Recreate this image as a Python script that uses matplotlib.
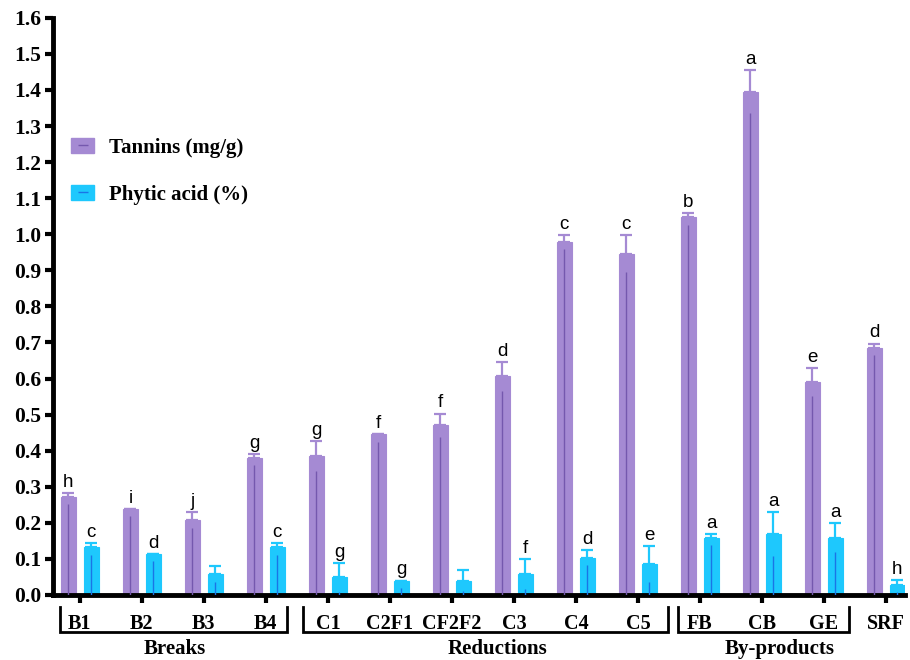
import numpy as np
import matplotlib
matplotlib.use("Agg")
import matplotlib.pyplot as plt
import matplotlib.transforms as mtransforms
from matplotlib.patches import Patch
from matplotlib.lines import Line2D

# data
samples = ["B1", "B2", "B3", "B4", "C1", "C2F1", "CF2F2", "C3", "C4", "C5",
           "FB", "CB", "GE", "SRF"]
tannins = [0.272, 0.238, 0.208, 0.381, 0.385, 0.445, 0.470, 0.606, 0.978, 0.946,
           1.047, 1.395, 0.591, 0.686]
tannins_err = [0.011, 0.0, 0.021, 0.010, 0.042, 0.0, 0.033, 0.040, 0.020, 0.051,
               0.012, 0.060, 0.038, 0.011]
tannins_letters = ["h", "i", "j", "g", "g", "f", "f", "d", "c", "c", "b", "a", "e", "d"]
phytic = [0.132, 0.113, 0.058, 0.132, 0.049, 0.040, 0.040, 0.058, 0.103, 0.085,
          0.159, 0.169, 0.159, 0.029]
phytic_err = [0.011, 0.0, 0.021, 0.011, 0.040, 0.0, 0.030, 0.041, 0.021, 0.050,
              0.010, 0.060, 0.040, 0.012]
phytic_letters = ["c", "d", "", "c", "g", "g", "", "f", "d", "e", "a", "a", "a", "h"]

groups = ["Breaks", "Reductions", "By-products"]
group_spans = [(-0.32, 3.34), (3.6, 9.48), (9.65, 12.4)]
group_label_x = [1.53, 6.74, 11.29]

purple = "#A58AD3"
purple_dark = "#7558AE"
blue = "#1EC8FD"
blue_dark = "#1A74E6"

serif = "Liberation Serif"
sans = "Liberation Sans"

fig = plt.figure(figsize=(9.1, 6.6), dpi=100)
ax = fig.add_axes([0.0577, 0.0985, 0.937, 0.8745])

x = np.arange(len(samples))
w = 0.245
off = 0.185


def draw_series(xpos, vals, errs, letters, color, dark):
    vals = np.array(vals)
    errs = np.array(errs)
    ax.bar(xpos, vals, width=w, color=color, edgecolor=color, linewidth=0.8, zorder=2)
    # inner (lower) part of the error line, drawn darker inside the bar
    ax.vlines(xpos, 0, vals - np.maximum(errs, 0.02), color=dark, linewidth=1.0, zorder=3)
    ax.errorbar(xpos, vals, yerr=[np.zeros_like(errs), errs], fmt="none",
                ecolor=color, elinewidth=1.6, capsize=4.5, capthick=1.6, zorder=3)
    for xi, v, e, t in zip(xpos, vals, errs, letters):
        if t:
            ax.annotate(t, (xi, v + e), xytext=(0, 1.5), textcoords="offset points",
                        ha="center", va="bottom", fontsize=13.5, family=sans)


draw_series(x - off, tannins, tannins_err, tannins_letters, purple, purple_dark)
draw_series(x + off, phytic, phytic_err, phytic_letters, blue, blue_dark)

ax.set_xlim(-0.44, 13.31)
ax.set_ylim(0, 1.6)
ax.set_yticks(np.arange(0, 1.61, 0.1))
ax.set_yticklabels([f"{v:.1f}" for v in np.arange(0, 1.61, 0.1)])
ax.set_xticks(x)
ax.set_xticklabels(samples)

for sp in ["top", "right"]:
    ax.spines[sp].set_visible(False)
for sp in ["left", "bottom"]:
    ax.spines[sp].set_linewidth(3.5)
ax.tick_params(axis="both", width=3, length=6)
ax.tick_params(axis="y", labelsize=15.5, pad=2)
ax.tick_params(axis="x", labelsize=14.5, pad=8)
for lab in ax.get_xticklabels() + ax.get_yticklabels():
    lab.set_fontfamily(serif)
    lab.set_fontweight("bold")

# group brackets below the x axis
trans = mtransforms.blended_transform_factory(ax.transData, ax.transAxes)
y_top, y_bot = -0.021, -0.064
for (x0, x1), name, tx in zip(group_spans, groups, group_label_x):
    ax.plot([x0, x0, x1, x1], [y_top, y_bot, y_bot, y_top], color="black",
            linewidth=2, transform=trans, clip_on=False, solid_joinstyle="miter")
    ax.text(tx, -0.094, name, transform=trans, ha="center", va="center",
            fontsize=15, family=serif, fontweight="bold")

handles = [
    (Patch(facecolor=purple, edgecolor=purple),
     Line2D([], [], marker="_", color=purple_dark, linestyle="none", markersize=7)),
    (Patch(facecolor=blue, edgecolor=blue),
     Line2D([], [], marker="_", color=blue_dark, linestyle="none", markersize=7)),
]
ax.legend(handles, ["Tannins (mg/g)", "Phytic acid (%)"], loc="upper left",
          bbox_to_anchor=(0.0, 0.825), frameon=False, handlelength=1.1,
          handleheight=0.75, labelspacing=1.3, handletextpad=0.7,
          prop={"family": serif, "weight": "bold", "size": 15})

plt.savefig("out.png", dpi=100)
